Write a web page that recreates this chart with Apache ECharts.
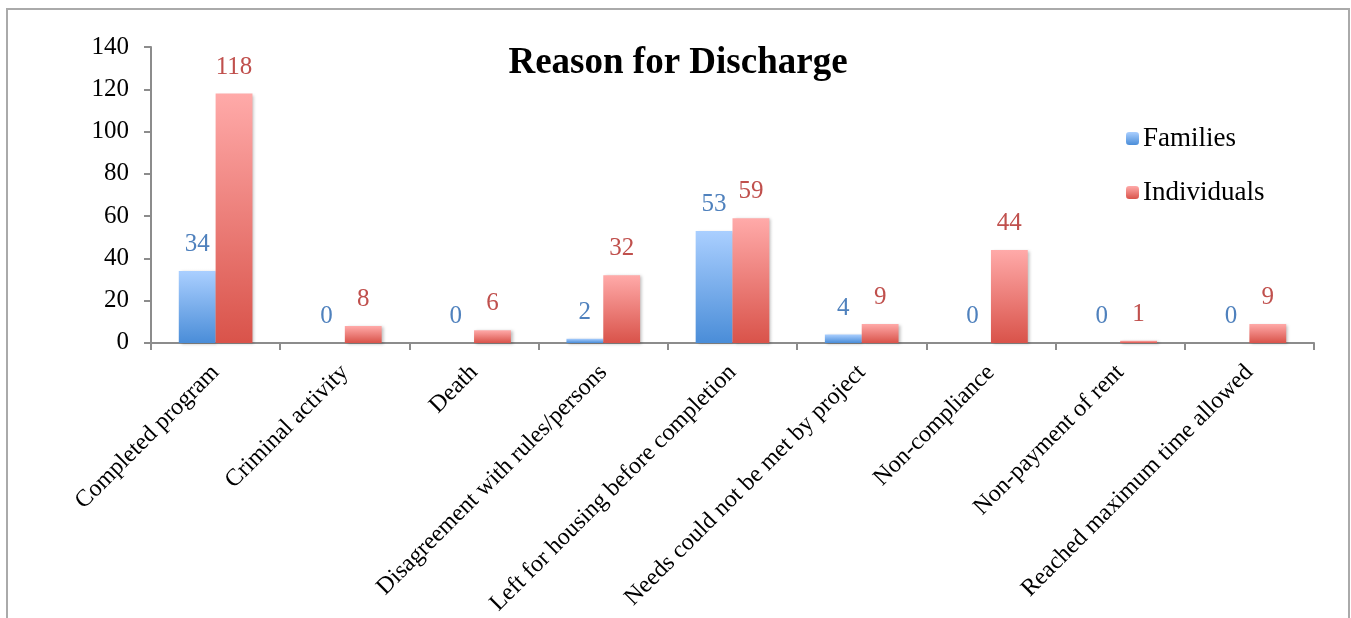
<!DOCTYPE html>
<html><head><meta charset="utf-8">
<script src="https://cdn.jsdelivr.net/npm/echarts@6/dist/echarts.min.js"></script>
<style>html,body{margin:0;padding:0;background:#fff}#c{width:1351px;height:618px}</style>
</head><body><div id="c"></div>
<script>
const categories = ["Completed program","Criminal activity","Death","Disagreement with rules/persons","Left for housing before completion","Needs could not be met by project","Non-compliance","Non-payment of rent","Reached maximum time allowed"];
const families = [34,0,0,2,53,4,0,0,0];
const individuals = [118,8,6,32,59,9,44,1,9];
const yTicks = {min:0, max:140, interval:20};

const F = "'Liberation Serif','Times New Roman',serif";
function grad(top, bottom){
  return new echarts.graphic.LinearGradient(0,0,0,1,[{offset:0,color:top},{offset:1,color:bottom}]);
}
const chart = echarts.init(document.getElementById('c'));
chart.setOption({
  animation:false,
  backgroundColor:'#fff',
  title:{text:'Reason for Discharge', left:673, top:40, textAlign:'center',
    textStyle:{fontFamily:F, fontSize:37, fontWeight:'bold', color:'#000'}},
  legend:{orient:'vertical', left:1126, top:125, padding:0, itemWidth:13, itemHeight:13, itemGap:27,
    textStyle:{fontFamily:F, fontSize:27, color:'#000', padding:[0,0,0,-1]},
    data:['Families','Individuals']},
  graphic:[{type:'rect', shape:{x:7,y:9,width:1342,height:640}, style:{fill:'none', stroke:'#aaa', lineWidth:2}, silent:true}],
  grid:{left:151, right:37, top:47, bottom:275},
  xAxis:{type:'category', data:categories,
    axisLine:{lineStyle:{color:'#8c8c8c', width:2}},
    axisTick:{show:true, length:7, lineStyle:{color:'#8c8c8c', width:2}},
    axisLabel:{rotate:45, margin:26, fontFamily:F, fontSize:24, color:'#000', interval:0}},
  yAxis:{type:'value', min:yTicks.min, max:yTicks.max, interval:yTicks.interval,
    splitLine:{show:false},
    axisLine:{show:true, lineStyle:{color:'#8c8c8c', width:2}},
    axisTick:{show:true, length:7, lineStyle:{color:'#8c8c8c', width:2}},
    axisLabel:{margin:22, fontFamily:F, fontSize:25, color:'#000'}},
  series:[
    {name:'Families', type:'bar', data:families, barGap:'0%', barCategoryGap:'43%',
      itemStyle:{color:grad('#aacfff','#4a8dd8'), shadowColor:'rgba(0,0,0,0.25)', shadowBlur:3, shadowOffsetX:2, shadowOffsetY:1},
      label:{show:true, position:'top', distance:14, fontFamily:F, fontSize:25, color:'#4f81bd'}},
    {name:'Individuals', type:'bar', data:individuals, barGap:'0%', barCategoryGap:'43%',
      itemStyle:{color:grad('#ffaaa9','#d9534a'), shadowColor:'rgba(0,0,0,0.25)', shadowBlur:3, shadowOffsetX:2, shadowOffsetY:1},
      label:{show:true, position:'top', distance:14, fontFamily:F, fontSize:25, color:'#c0504d'}}
  ]
});
</script></body></html>
